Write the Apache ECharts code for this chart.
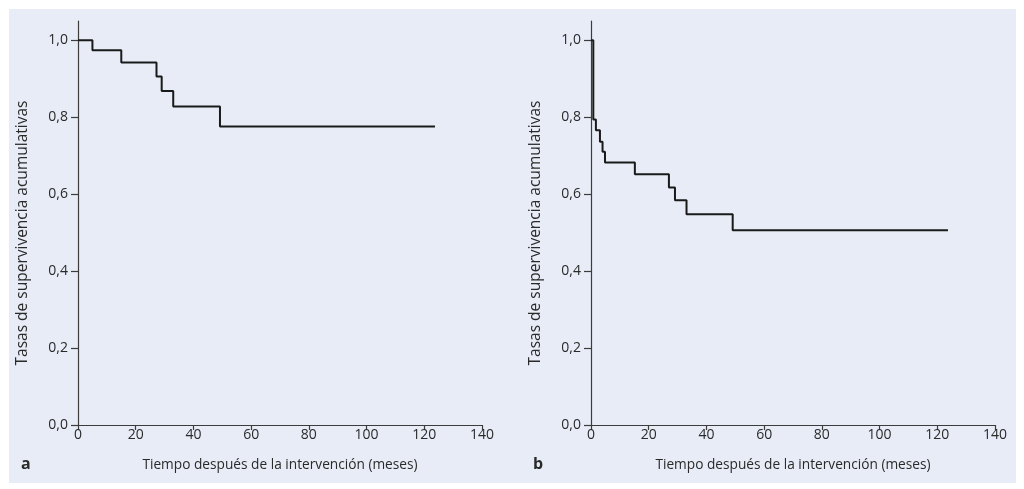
<!DOCTYPE html>
<html><head><meta charset="utf-8">
<script src="https://cdn.jsdelivr.net/npm/echarts@6/dist/echarts.min.js"></script>
<style>html,body{margin:0;padding:0;background:#fff}#c{width:1024px;height:489px}</style>
</head><body><div id="c"></div>
<script>
// Panel a: time (months) and cumulative survival
const timeA = [0, 5, 15, 27.2, 29, 33, 49.2, 123.7];
const survA = [1.0, 0.974, 0.942, 0.906, 0.868, 0.828, 0.776, 0.776];
// Panel b
const timeB = [0, 0.8, 1.7, 3.1, 4.0, 4.85, 15.2, 27.0, 29.1, 33.1, 49.1, 123.7];
const survB = [1.0, 0.794, 0.766, 0.736, 0.710, 0.682, 0.652, 0.617, 0.584, 0.548, 0.506, 0.506];
const yTicks = [0, 0.2, 0.4, 0.6, 0.8, 1.0];
const xTicks = [0, 20, 40, 60, 80, 100, 120, 140];
const xName = 'Tiempo después de la intervención (meses)';
const yName = 'Tasas de supervivencia acumulativas';
const panelLabels = ['a', 'b'];

const FONT = '"Open Sans", "Noto Sans", sans-serif';
const axisColor = '#3c3c3c';
const textColor = '#2a2a2a';

function xAxis(gi) {
  return {
    gridIndex: gi, type: 'value', min: 0, max: 140, interval: 20,
    name: xName, nameLocation: 'middle', nameGap: 33,
    nameTextStyle: {fontFamily: FONT, fontSize: 13.7, color: textColor},
    axisLine: {show: true, onZero: false, lineStyle: {color: axisColor, width: 1.2}},
    axisTick: {show: true, length: 5, lineStyle: {color: axisColor, width: 1.2}},
    axisLabel: {fontFamily: FONT, fontSize: 14, color: textColor, margin: 3},
    splitLine: {show: false}
  };
}
function yAxis(gi) {
  return {
    gridIndex: gi, type: 'value', min: 0, max: 1.05,
    name: yName, nameLocation: 'middle', nameGap: 47,
    nameTextStyle: {fontFamily: FONT, fontSize: 15.5, color: textColor, padding: [0, 20, 0, 0]},
    axisLine: {show: true, lineStyle: {color: axisColor, width: 1.2}},
    axisTick: {show: true, length: 7, customValues: yTicks, lineStyle: {color: axisColor, width: 1.2}},
    axisLabel: {fontFamily: FONT, fontSize: 14, color: textColor, margin: 10, customValues: yTicks,
      formatter: v => v.toFixed(1).replace('.', ',')},
    splitLine: {show: false}
  };
}
const pts = (t, s) => t.map((x, i) => [x, s[i]]);

const chart = echarts.init(document.getElementById('c'), null, {renderer: 'canvas'});
chart.setOption({
  backgroundColor: '#ffffff',
  animation: false,
  graphic: [
    {type: 'rect', z: -10, silent: true, shape: {x: 9, y: 9, width: 1007, height: 474}, style: {fill: '#e7ecf6'}},
    {type: 'text', left: 21, top: 456, style: {text: panelLabels[0], font: 'bold 16px ' + FONT, fill: textColor}},
    {type: 'text', left: 533, top: 456, style: {text: panelLabels[1], font: 'bold 16px ' + FONT, fill: textColor}}
  ],
  grid: [
    {left: 78, right: 542, top: 21, bottom: 64},
    {left: 591, right: 29, top: 21, bottom: 64}
  ],
  xAxis: [xAxis(0), xAxis(1)],
  yAxis: [yAxis(0), yAxis(1)],
  series: [
    {type: 'line', xAxisIndex: 0, yAxisIndex: 0, step: 'end', symbol: 'none', data: pts(timeA, survA),
      lineStyle: {color: '#1a1a1a', width: 2}},
    {type: 'line', xAxisIndex: 1, yAxisIndex: 1, step: 'end', symbol: 'none', data: pts(timeB, survB),
      lineStyle: {color: '#1a1a1a', width: 2}}
  ]
});
</script></body></html>
